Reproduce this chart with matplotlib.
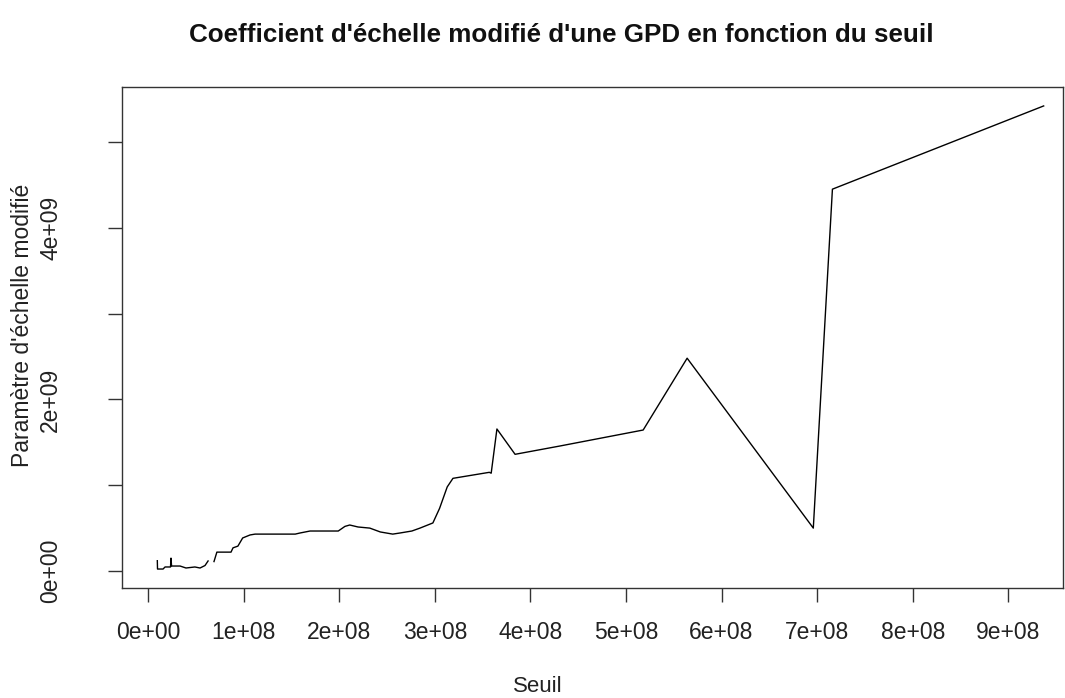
import numpy as np
import matplotlib
matplotlib.use("Agg")
import matplotlib.pyplot as plt

plt.rcParams['font.family'] = ['Liberation Sans', 'DejaVu Sans']

# seuil (threshold) and modified scale parameter; NaN marks a break in the curve
seuil = np.array([0.097, 0.099, 0.157, 0.178, 0.235, 0.240, 0.246, 0.335, 0.397, 0.490,
                  0.544, 0.596, 0.628, np.nan, 0.690, 0.720, 0.774, 0.868, 0.889, 0.940,
                  0.990, 1.067, 1.120, 1.540, 1.590, 1.695, 1.990, 2.060, 2.110, 2.197,
                  2.320, 2.430, 2.560, 2.636, 2.760, 2.845, 2.980, 3.050, 3.130, 3.190,
                  3.570, 3.590, 3.650, 3.840, 4.310, 5.180, 5.640, 6.960, 7.160, 9.370]) * 1e8
echelle = np.array([0.120, 0.023, 0.023, 0.047, 0.047, 0.150, 0.058, 0.058, 0.035, 0.047,
                    0.035, 0.064, 0.117, np.nan, 0.110, 0.220, 0.220, 0.220, 0.270, 0.290,
                    0.385, 0.420, 0.430, 0.430, 0.443, 0.466, 0.466, 0.520, 0.536, 0.513,
                    0.500, 0.455, 0.430, 0.443, 0.466, 0.500, 0.560, 0.730, 0.980, 1.080,
                    1.150, 1.140, 1.655, 1.360, 1.457, 1.643, 2.480, 0.500, 4.450, 5.420]) * 1e9

x_ticks = np.arange(0, 10) * 1e8
x_labels = ["0e+00", "1e+08", "2e+08", "3e+08", "4e+08",
            "5e+08", "6e+08", "7e+08", "8e+08", "9e+08"]
y_ticks = np.arange(0, 6) * 1e9
y_labels = ["0e+00", "", "2e+09", "", "4e+09", ""]

fig = plt.figure(figsize=(10.65, 6.98), dpi=100)
ax = fig.add_axes([0.1146, 0.1576, 0.8834, 0.7178])

ax.plot(seuil, echelle, color='black', lw=1.0)

ax.set_xlim(-0.272e8, 9.571e8)
ax.set_ylim(-0.198e9, 5.641e9)

ax.set_xticks(x_ticks)
ax.set_xticklabels(x_labels)
ax.set_yticks(y_ticks)
ax.set_yticklabels(y_labels, rotation=90, va='center')

ax.tick_params(axis='both', direction='out', length=10, width=1.0, color='#333333',
               labelsize=16.5, labelcolor='#222222', pad=14)
ax.tick_params(axis='y', pad=33)

for sp in ax.spines.values():
    sp.set_color('#333333')
    sp.set_linewidth(1.0)

fig.text(561 / 1065, 1 - 35 / 698,
         "Coefficient d'échelle modifié d'une GPD en fonction du seuil",
         ha='center', va='center', fontsize=18.7, fontweight='bold', color='#111111')
fig.text(538 / 1065, 1 - 686 / 698, "Seuil",
         ha='center', va='center', fontsize=16, color='#222222')
fig.text(23 / 1065, 1 - 325 / 698, "Paramètre d'échelle modifié",
         ha='center', va='center', rotation=90, fontsize=16.5, color='#222222')

fig.savefig("out.png", dpi=100)
